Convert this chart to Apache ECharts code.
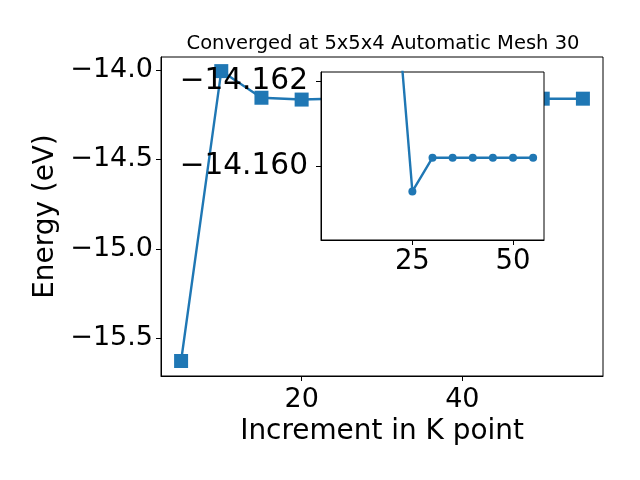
<!DOCTYPE html>
<html><head><meta charset="utf-8">
<script src="https://cdn.jsdelivr.net/npm/echarts@6/dist/echarts.min.js"></script>
<style>html,body{margin:0;padding:0;background:#fff}#c{width:640px;height:480px}</style>
</head><body><div id="c"></div>
<script>
const kPoints = [5, 10, 15, 20, 25, 30, 35, 40, 45, 50, 55];
const energies = [-15.628, -14.006, -14.155, -14.1652, -14.1594, -14.1602, -14.1602, -14.1602, -14.1602, -14.1602, -14.1602];
const insetStart = 3; // the inset plots from the 4th K point on
const mainXTicks = [20, 40];
const mainYTicks = [-14.0, -14.5, -15.0, -15.5];
const insetXTicks = [25, 50];
const insetYTicks = [-14.162, -14.160];
const titleText = 'Converged at 5x5x4 Automatic Mesh 30';
const xName = 'Increment in K point';
const yName = 'Energy (eV)';

const FONT = 'DejaVu Sans';
const BLUE = '#1f77b4';
const pts = kPoints.map((k, i) => [k, energies[i]]);
const insetPts = pts.slice(insetStart);
const fmt = d => v => (v < 0 ? '\u2212' : '') + Math.abs(v).toFixed(d);

const chart = echarts.init(document.getElementById('c'), null, {renderer: 'canvas'});
const axisBase = (z) => ({
  z: z,
  axisLine: {show: true, onZero: false, lineStyle: {color: '#000', width: 1}},
  splitLine: {show: false}
});
const tick = (vals) => ({show: true, length: 5, inside: false, customValues: vals, lineStyle: {color: '#000', width: 1}});
const lab = (vals, size, margin, f) => ({color: '#000', fontFamily: FONT, fontSize: size, margin: margin, customValues: vals, formatter: f});
chart.setOption({
  animation: false,
  backgroundColor: '#fff',
  title: {
    text: titleText, left: 378, top: 29, textAlign: 'center',
    textStyle: {fontFamily: FONT, fontSize: 19.5, fontWeight: 'normal', color: '#000'}
  },
  grid: [
    {left: 161, right: 37, top: 57, bottom: 104, show: true, borderColor: '#000', borderWidth: 1, backgroundColor: 'transparent', z: 0},
    {left: 321, top: 72, width: 223, height: 168, show: true, borderColor: '#000', borderWidth: 1, backgroundColor: '#fff', z: 5}
  ],
  xAxis: [
    Object.assign(axisBase(1), {
      type: 'value', gridIndex: 0, min: 2.5, max: 57.5,
      name: xName, nameLocation: 'middle', nameGap: 41,
      nameTextStyle: {fontFamily: FONT, fontSize: 27.9, color: '#000'},
      axisTick: tick(mainXTicks),
      axisLabel: lab(mainXTicks, 27, 10, v => String(v))
    }),
    Object.assign(axisBase(6), {
      type: 'value', gridIndex: 1, min: 2.3, max: 57.7,
      axisTick: tick(insetXTicks),
      axisLabel: lab(insetXTicks, 27.5, 8, v => String(v))
    })
  ],
  yAxis: [
    Object.assign(axisBase(1), {
      type: 'value', gridIndex: 0, min: -15.712, max: -13.927,
      name: yName, nameLocation: 'middle', nameGap: 97,
      nameTextStyle: {fontFamily: FONT, fontSize: 27.9, color: '#000'},
      axisTick: tick(mainYTicks),
      axisLabel: lab(mainYTicks, 27, 8, fmt(1))
    }),
    Object.assign(axisBase(6), {
      type: 'value', gridIndex: 1, inverse: true, min: -14.16223, max: -14.15825,
      axisTick: tick(insetYTicks),
      axisLabel: lab(insetYTicks, 29.6, 13, fmt(3))
    })
  ],
  series: [
    {type: 'line', xAxisIndex: 0, yAxisIndex: 0, data: pts, z: 2,
     lineStyle: {color: BLUE, width: 2.4}, itemStyle: {color: BLUE, opacity: 1},
     symbol: 'rect', symbolSize: 14, showAllSymbol: true, clip: true},
    {type: 'line', xAxisIndex: 1, yAxisIndex: 1, data: insetPts, z: 7,
     lineStyle: {color: BLUE, width: 2.4}, itemStyle: {color: BLUE, opacity: 1},
     symbol: 'circle', symbolSize: 8, showAllSymbol: true, clip: true}
  ]
});
</script></body></html>
